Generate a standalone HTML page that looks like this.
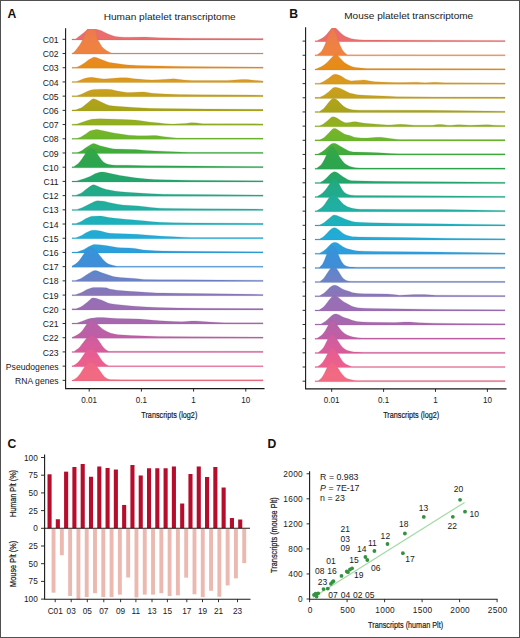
<!DOCTYPE html>
<html><head><meta charset="utf-8"><style>
html,body{margin:0;padding:0;background:#fff;}
svg{display:block;}
</style></head><body>
<svg width="520" height="638" viewBox="0 0 520 638">
<defs><linearGradient id="ag0" x1="0" y1="0" x2="0" y2="1"><stop offset="0" stop-color="#ea6c6c"/><stop offset="0.7" stop-color="#ea6c6c"/></linearGradient><linearGradient id="ag1" x1="0" y1="0" x2="0" y2="1"><stop offset="0" stop-color="#ed7854"/><stop offset="0.7" stop-color="#ef8240"/></linearGradient><linearGradient id="ag2" x1="0" y1="0" x2="0" y2="1"><stop offset="0" stop-color="#ea8829"/><stop offset="0.7" stop-color="#e68c16"/></linearGradient><linearGradient id="ag3" x1="0" y1="0" x2="0" y2="1"><stop offset="0" stop-color="#df941a"/><stop offset="0.7" stop-color="#d99b1e"/></linearGradient><linearGradient id="ag4" x1="0" y1="0" x2="0" y2="1"><stop offset="0" stop-color="#cd9e1d"/><stop offset="0.7" stop-color="#c3a01c"/></linearGradient><linearGradient id="ag5" x1="0" y1="0" x2="0" y2="1"><stop offset="0" stop-color="#b5a21b"/><stop offset="0.7" stop-color="#a9a31a"/></linearGradient><linearGradient id="ag6" x1="0" y1="0" x2="0" y2="1"><stop offset="0" stop-color="#9baa1d"/><stop offset="0.7" stop-color="#8fb020"/></linearGradient><linearGradient id="ag7" x1="0" y1="0" x2="0" y2="1"><stop offset="0" stop-color="#7cb327"/><stop offset="0.7" stop-color="#6cb62c"/></linearGradient><linearGradient id="ag8" x1="0" y1="0" x2="0" y2="1"><stop offset="0" stop-color="#53b035"/><stop offset="0.7" stop-color="#3fac3c"/></linearGradient><linearGradient id="ag9" x1="0" y1="0" x2="0" y2="1"><stop offset="0" stop-color="#35a846"/><stop offset="0.7" stop-color="#2ca54e"/></linearGradient><linearGradient id="ag10" x1="0" y1="0" x2="0" y2="1"><stop offset="0" stop-color="#26a65e"/><stop offset="0.7" stop-color="#22a66c"/></linearGradient><linearGradient id="ag11" x1="0" y1="0" x2="0" y2="1"><stop offset="0" stop-color="#21a97e"/><stop offset="0.7" stop-color="#21ab8c"/></linearGradient><linearGradient id="ag12" x1="0" y1="0" x2="0" y2="1"><stop offset="0" stop-color="#20ad98"/><stop offset="0.7" stop-color="#20afa2"/></linearGradient><linearGradient id="ag13" x1="0" y1="0" x2="0" y2="1"><stop offset="0" stop-color="#1eb0b1"/><stop offset="0.7" stop-color="#1cb1be"/></linearGradient><linearGradient id="ag14" x1="0" y1="0" x2="0" y2="1"><stop offset="0" stop-color="#1faecc"/><stop offset="0.7" stop-color="#22abd8"/></linearGradient><linearGradient id="ag15" x1="0" y1="0" x2="0" y2="1"><stop offset="0" stop-color="#28a4da"/><stop offset="0.7" stop-color="#2c9edc"/></linearGradient><linearGradient id="ag16" x1="0" y1="0" x2="0" y2="1"><stop offset="0" stop-color="#3695da"/><stop offset="0.7" stop-color="#3e8ed8"/></linearGradient><linearGradient id="ag17" x1="0" y1="0" x2="0" y2="1"><stop offset="0" stop-color="#5787ce"/><stop offset="0.7" stop-color="#6c82c6"/></linearGradient><linearGradient id="ag18" x1="0" y1="0" x2="0" y2="1"><stop offset="0" stop-color="#7c7bbe"/><stop offset="0.7" stop-color="#8a75b8"/></linearGradient><linearGradient id="ag19" x1="0" y1="0" x2="0" y2="1"><stop offset="0" stop-color="#9371b6"/><stop offset="0.7" stop-color="#9b6db4"/></linearGradient><linearGradient id="ag20" x1="0" y1="0" x2="0" y2="1"><stop offset="0" stop-color="#a26ab1"/><stop offset="0.7" stop-color="#a867ae"/></linearGradient><linearGradient id="ag21" x1="0" y1="0" x2="0" y2="1"><stop offset="0" stop-color="#b463aa"/><stop offset="0.7" stop-color="#bd5fa6"/></linearGradient><linearGradient id="ag22" x1="0" y1="0" x2="0" y2="1"><stop offset="0" stop-color="#cc5da0"/><stop offset="0.7" stop-color="#d85c9c"/></linearGradient><linearGradient id="ag23" x1="0" y1="0" x2="0" y2="1"><stop offset="0" stop-color="#e35d94"/><stop offset="0.7" stop-color="#ec5e8e"/></linearGradient><linearGradient id="ag24" x1="0" y1="0" x2="0" y2="1"><stop offset="0" stop-color="#ef6587"/><stop offset="0.7" stop-color="#f26a82"/></linearGradient><clipPath id="aclip"><rect x="65.6" y="29.1" width="250" height="400"/></clipPath><linearGradient id="bg0" x1="0" y1="0" x2="0" y2="1"><stop offset="0" stop-color="#ea6c6c"/><stop offset="0.7" stop-color="#ea6c6c"/></linearGradient><linearGradient id="bg1" x1="0" y1="0" x2="0" y2="1"><stop offset="0" stop-color="#ed7854"/><stop offset="0.7" stop-color="#ef8240"/></linearGradient><linearGradient id="bg2" x1="0" y1="0" x2="0" y2="1"><stop offset="0" stop-color="#ea8829"/><stop offset="0.7" stop-color="#e68c16"/></linearGradient><linearGradient id="bg3" x1="0" y1="0" x2="0" y2="1"><stop offset="0" stop-color="#df941a"/><stop offset="0.7" stop-color="#d99b1e"/></linearGradient><linearGradient id="bg4" x1="0" y1="0" x2="0" y2="1"><stop offset="0" stop-color="#cd9e1d"/><stop offset="0.7" stop-color="#c3a01c"/></linearGradient><linearGradient id="bg5" x1="0" y1="0" x2="0" y2="1"><stop offset="0" stop-color="#b5a21b"/><stop offset="0.7" stop-color="#a9a31a"/></linearGradient><linearGradient id="bg6" x1="0" y1="0" x2="0" y2="1"><stop offset="0" stop-color="#9baa1d"/><stop offset="0.7" stop-color="#8fb020"/></linearGradient><linearGradient id="bg7" x1="0" y1="0" x2="0" y2="1"><stop offset="0" stop-color="#7cb327"/><stop offset="0.7" stop-color="#6cb62c"/></linearGradient><linearGradient id="bg8" x1="0" y1="0" x2="0" y2="1"><stop offset="0" stop-color="#53b035"/><stop offset="0.7" stop-color="#3fac3c"/></linearGradient><linearGradient id="bg9" x1="0" y1="0" x2="0" y2="1"><stop offset="0" stop-color="#35a846"/><stop offset="0.7" stop-color="#2ca54e"/></linearGradient><linearGradient id="bg10" x1="0" y1="0" x2="0" y2="1"><stop offset="0" stop-color="#26a65e"/><stop offset="0.7" stop-color="#22a66c"/></linearGradient><linearGradient id="bg11" x1="0" y1="0" x2="0" y2="1"><stop offset="0" stop-color="#21a97e"/><stop offset="0.7" stop-color="#21ab8c"/></linearGradient><linearGradient id="bg12" x1="0" y1="0" x2="0" y2="1"><stop offset="0" stop-color="#20ad98"/><stop offset="0.7" stop-color="#20afa2"/></linearGradient><linearGradient id="bg13" x1="0" y1="0" x2="0" y2="1"><stop offset="0" stop-color="#1eb0b1"/><stop offset="0.7" stop-color="#1cb1be"/></linearGradient><linearGradient id="bg14" x1="0" y1="0" x2="0" y2="1"><stop offset="0" stop-color="#1faecc"/><stop offset="0.7" stop-color="#22abd8"/></linearGradient><linearGradient id="bg15" x1="0" y1="0" x2="0" y2="1"><stop offset="0" stop-color="#28a4da"/><stop offset="0.7" stop-color="#2c9edc"/></linearGradient><linearGradient id="bg16" x1="0" y1="0" x2="0" y2="1"><stop offset="0" stop-color="#3695da"/><stop offset="0.7" stop-color="#3e8ed8"/></linearGradient><linearGradient id="bg17" x1="0" y1="0" x2="0" y2="1"><stop offset="0" stop-color="#5787ce"/><stop offset="0.7" stop-color="#6c82c6"/></linearGradient><linearGradient id="bg18" x1="0" y1="0" x2="0" y2="1"><stop offset="0" stop-color="#7c7bbe"/><stop offset="0.7" stop-color="#8a75b8"/></linearGradient><linearGradient id="bg19" x1="0" y1="0" x2="0" y2="1"><stop offset="0" stop-color="#9371b6"/><stop offset="0.7" stop-color="#9b6db4"/></linearGradient><linearGradient id="bg20" x1="0" y1="0" x2="0" y2="1"><stop offset="0" stop-color="#a26ab1"/><stop offset="0.7" stop-color="#a867ae"/></linearGradient><linearGradient id="bg21" x1="0" y1="0" x2="0" y2="1"><stop offset="0" stop-color="#b463aa"/><stop offset="0.7" stop-color="#bd5fa6"/></linearGradient><linearGradient id="bg22" x1="0" y1="0" x2="0" y2="1"><stop offset="0" stop-color="#cc5da0"/><stop offset="0.7" stop-color="#d85c9c"/></linearGradient><linearGradient id="bg23" x1="0" y1="0" x2="0" y2="1"><stop offset="0" stop-color="#e35d94"/><stop offset="0.7" stop-color="#ec5e8e"/></linearGradient><linearGradient id="bg24" x1="0" y1="0" x2="0" y2="1"><stop offset="0" stop-color="#ef6587"/><stop offset="0.7" stop-color="#f26a82"/></linearGradient><clipPath id="bclip"><rect x="305.6" y="28.0" width="250" height="400"/></clipPath></defs>
<rect x="0" y="0" width="520" height="638" fill="#fff"/>
<text x="7.6" y="18.2" font-family="'Liberation Sans', sans-serif" font-weight="bold" font-size="12.2" fill="#111">A</text>
<text x="289.2" y="18.4" font-family="'Liberation Sans', sans-serif" font-weight="bold" font-size="12.2" fill="#111">B</text>
<text x="7.4" y="447.6" font-family="'Liberation Sans', sans-serif" font-weight="bold" font-size="12.2" fill="#111">C</text>
<text x="267.6" y="447.6" font-family="'Liberation Sans', sans-serif" font-weight="bold" font-size="12.2" fill="#111">D</text>
<text x="103.7" y="19.9" font-family="'Liberation Sans', sans-serif" font-size="9.8" fill="#1a1a1a" textLength="132" lengthAdjust="spacingAndGlyphs">Human platelet transcriptome</text>
<text x="344.2" y="19.3" font-family="'Liberation Sans', sans-serif" font-size="9.8" fill="#1a1a1a" textLength="129" lengthAdjust="spacingAndGlyphs">Mouse platelet transcriptome</text>
<g clip-path="url(#aclip)"><path d="M72.0,39.90 L72.0,38.88 L75.5,38.88 L76.0,38.63 L84.0,32.40 L87.0,29.70 L88.0,29.10 L90.0,28.21 L91.0,27.91 L92.0,27.80 L93.5,28.06 L96.5,29.20 L101.0,30.50 L102.5,31.16 L105.5,32.76 L107.5,33.68 L113.5,36.12 L115.5,36.57 L120.0,36.97 L124.0,37.17 L129.5,37.30 L145.5,37.12 L159.0,37.68 L174.5,38.06 L188.0,38.27 L263.0,38.47 L263.0,39.90Z" fill="url(#ag0)" stroke="#c16868" stroke-width="0.4" stroke-opacity="0.5" stroke-linejoin="round"/><path d="M72.0,54.11 L72.0,53.09 L73.0,53.09 L74.0,51.89 L75.5,50.51 L79.5,45.29 L81.0,42.86 L82.5,40.05 L85.0,34.85 L86.5,31.11 L87.0,30.05 L87.5,29.28 L88.5,28.59 L90.0,27.89 L91.0,27.61 L92.0,27.51 L93.0,27.59 L94.0,27.85 L95.0,28.37 L95.5,28.74 L96.0,29.95 L96.5,34.87 L97.0,37.19 L97.5,38.77 L98.5,41.05 L101.5,46.12 L102.0,46.81 L103.5,48.34 L106.0,50.19 L110.5,52.65 L112.0,53.09 L263.0,53.09 L263.0,54.11Z" fill="url(#ag1)" stroke="#c4784a" stroke-width="0.4" stroke-opacity="0.5" stroke-linejoin="round"/><path d="M72.0,68.32 L72.0,67.30 L76.5,67.30 L78.0,66.74 L81.0,65.16 L84.5,62.99 L88.0,60.22 L89.5,59.19 L92.5,57.69 L93.5,57.35 L94.5,57.22 L95.5,57.32 L97.0,57.75 L106.5,61.46 L109.5,62.41 L115.0,63.37 L125.5,64.76 L129.0,65.09 L137.5,65.47 L147.5,65.78 L183.5,66.44 L210.5,66.72 L263.0,67.05 L263.0,68.32Z" fill="url(#ag2)" stroke="#be7f2c" stroke-width="0.4" stroke-opacity="0.5" stroke-linejoin="round"/><path d="M72.0,82.53 L72.0,81.51 L76.5,81.48 L78.0,80.95 L83.0,78.91 L85.0,78.25 L89.0,77.55 L92.0,77.33 L93.5,77.45 L98.0,78.33 L101.5,78.75 L104.0,78.92 L107.5,78.81 L120.0,77.78 L124.5,77.64 L127.0,77.80 L134.0,78.73 L141.0,79.36 L145.5,79.67 L152.0,79.88 L158.5,79.87 L171.0,78.90 L173.0,78.83 L176.0,79.01 L184.0,80.07 L192.5,80.45 L225.0,80.49 L227.5,80.41 L241.5,79.54 L245.0,79.43 L247.0,79.54 L251.5,80.09 L263.0,80.95 L263.0,82.53Z" fill="url(#ag3)" stroke="#b58932" stroke-width="0.4" stroke-opacity="0.5" stroke-linejoin="round"/><path d="M72.0,96.74 L72.0,95.72 L76.5,95.72 L77.0,95.70 L77.5,95.56 L82.0,93.93 L87.5,91.32 L91.0,90.07 L92.5,89.65 L94.5,89.42 L101.5,89.24 L106.5,89.31 L111.0,89.53 L113.0,89.90 L117.5,91.04 L120.5,91.61 L123.5,92.08 L127.0,92.45 L130.5,92.52 L141.0,91.99 L144.0,91.95 L146.0,92.14 L152.0,93.14 L159.5,93.76 L166.0,94.11 L179.0,94.43 L199.0,94.74 L263.0,95.16 L263.0,96.74Z" fill="url(#ag4)" stroke="#a58d30" stroke-width="0.4" stroke-opacity="0.5" stroke-linejoin="round"/><path d="M72.0,110.95 L72.0,109.93 L76.0,109.87 L80.0,108.35 L81.0,107.88 L82.5,106.91 L87.5,102.98 L91.0,99.96 L92.5,99.08 L93.5,98.85 L94.5,98.94 L96.0,99.42 L106.5,104.45 L108.0,105.04 L109.5,105.48 L113.5,105.99 L134.0,107.54 L149.0,108.25 L160.5,108.56 L206.0,109.00 L263.0,109.37 L263.0,110.95Z" fill="url(#ag5)" stroke="#938f2f" stroke-width="0.4" stroke-opacity="0.5" stroke-linejoin="round"/><path d="M72.0,125.16 L72.0,124.14 L77.0,124.10 L81.5,122.61 L86.5,120.71 L91.5,119.36 L95.0,119.03 L100.0,118.86 L124.5,119.54 L135.0,120.09 L139.0,120.48 L149.0,121.96 L159.5,122.96 L165.5,123.67 L171.0,124.02 L174.5,124.03 L179.0,123.84 L185.5,123.38 L190.5,122.81 L193.5,122.66 L197.0,122.89 L201.0,123.58 L203.0,123.73 L263.0,123.89 L263.0,125.16Z" fill="url(#ag6)" stroke="#819833" stroke-width="0.4" stroke-opacity="0.5" stroke-linejoin="round"/><path d="M72.0,139.37 L72.0,138.35 L77.0,138.35 L79.0,137.74 L81.0,136.89 L82.5,136.08 L86.5,133.45 L89.0,131.62 L90.5,130.76 L93.5,129.88 L95.0,129.63 L96.0,129.57 L97.0,129.62 L98.5,129.86 L109.0,132.08 L113.5,132.89 L124.0,134.54 L128.5,135.13 L134.0,135.60 L137.5,135.77 L146.5,135.77 L153.0,135.58 L155.5,135.62 L158.0,135.85 L164.0,136.67 L169.0,137.15 L173.5,137.75 L177.0,138.05 L263.0,138.10 L263.0,139.37Z" fill="url(#ag7)" stroke="#689c3c" stroke-width="0.4" stroke-opacity="0.5" stroke-linejoin="round"/><path d="M72.0,153.58 L72.0,152.56 L77.0,152.56 L78.0,152.30 L79.5,151.75 L81.0,151.08 L82.0,150.52 L86.0,147.61 L91.0,144.39 L92.5,143.74 L93.5,143.58 L94.5,143.66 L95.5,143.91 L100.0,145.68 L109.0,147.88 L111.5,148.61 L112.5,148.83 L115.0,149.00 L135.5,149.56 L146.5,150.41 L155.0,150.88 L179.5,151.94 L188.5,152.23 L194.5,152.31 L263.0,152.31 L263.0,153.58Z" fill="url(#ag8)" stroke="#499547" stroke-width="0.4" stroke-opacity="0.5" stroke-linejoin="round"/><path d="M72.0,167.79 L72.0,166.77 L73.0,166.77 L73.5,166.65 L74.0,166.39 L77.0,164.50 L78.5,163.22 L80.0,161.58 L81.5,159.60 L86.0,152.71 L87.5,150.72 L88.5,149.67 L89.5,148.91 L90.5,148.48 L91.0,148.40 L92.0,148.50 L93.0,148.94 L94.0,149.69 L95.0,150.71 L96.5,152.64 L101.0,159.32 L102.0,160.53 L103.5,161.99 L105.0,163.03 L106.5,163.73 L109.0,164.43 L112.0,164.96 L115.5,165.15 L127.0,165.25 L148.0,165.71 L160.5,165.86 L263.0,166.52 L263.0,167.79Z" fill="url(#ag9)" stroke="#3c9053" stroke-width="0.4" stroke-opacity="0.5" stroke-linejoin="round"/><path d="M72.0,182.00 L72.0,180.98 L76.5,180.98 L77.5,180.78 L84.0,178.72 L88.0,177.22 L90.5,176.18 L94.0,174.27 L95.5,173.57 L99.5,172.37 L101.0,172.09 L102.5,172.00 L105.0,172.28 L109.5,173.30 L120.0,175.40 L135.0,177.87 L144.5,178.81 L154.0,179.47 L162.0,179.78 L188.0,180.18 L263.0,180.73 L263.0,182.00Z" fill="url(#ag10)" stroke="#359168" stroke-width="0.4" stroke-opacity="0.5" stroke-linejoin="round"/><path d="M72.0,196.21 L72.0,195.19 L76.0,195.13 L80.5,193.40 L82.5,192.13 L86.0,189.31 L90.5,186.05 L92.0,185.18 L93.0,184.87 L93.5,184.81 L94.5,184.91 L95.5,185.21 L99.5,187.12 L102.5,188.15 L106.5,189.39 L109.5,190.12 L114.5,190.93 L120.5,191.67 L127.5,192.33 L135.0,192.85 L151.5,193.76 L163.5,194.17 L196.5,194.55 L263.0,194.94 L263.0,196.21Z" fill="url(#ag11)" stroke="#34947f" stroke-width="0.4" stroke-opacity="0.5" stroke-linejoin="round"/><path d="M72.0,210.42 L72.0,209.40 L77.0,209.38 L78.5,208.92 L82.0,207.65 L83.5,207.00 L94.5,201.60 L96.0,201.05 L97.5,200.82 L100.5,200.92 L104.0,201.25 L110.0,202.82 L117.5,204.24 L122.5,204.97 L126.5,205.33 L138.5,206.01 L153.5,207.63 L160.0,208.13 L173.5,208.42 L193.5,208.67 L263.0,209.15 L263.0,210.42Z" fill="url(#ag12)" stroke="#33978e" stroke-width="0.4" stroke-opacity="0.5" stroke-linejoin="round"/><path d="M72.0,224.63 L72.0,223.61 L75.5,223.61 L76.0,223.52 L80.0,222.03 L82.0,221.05 L85.0,219.10 L86.5,218.25 L89.5,216.97 L91.0,216.45 L92.0,216.22 L93.0,216.13 L99.5,216.03 L101.0,216.07 L102.5,216.24 L109.0,217.58 L115.5,218.36 L125.5,219.27 L137.5,220.16 L153.0,221.82 L160.0,222.34 L174.0,222.63 L194.0,222.89 L263.0,223.36 L263.0,224.63Z" fill="url(#ag13)" stroke="#3099a2" stroke-width="0.4" stroke-opacity="0.5" stroke-linejoin="round"/><path d="M72.0,238.84 L72.0,237.82 L75.5,237.82 L76.5,237.55 L81.0,235.81 L82.5,234.95 L85.5,233.00 L87.0,232.24 L91.0,230.61 L92.5,230.23 L93.5,230.14 L96.0,230.30 L100.5,231.03 L102.5,231.49 L107.0,232.74 L108.5,233.05 L110.0,233.24 L115.5,233.53 L137.0,234.29 L142.5,234.66 L159.5,236.06 L183.5,237.18 L191.5,237.46 L198.5,237.57 L263.0,237.57 L263.0,238.84Z" fill="url(#ag14)" stroke="#3594b4" stroke-width="0.4" stroke-opacity="0.5" stroke-linejoin="round"/><path d="M72.0,253.05 L72.0,252.03 L77.0,252.01 L78.5,251.55 L82.0,250.29 L84.5,249.20 L86.0,248.35 L88.5,246.72 L90.0,245.95 L93.0,244.79 L94.0,244.54 L95.0,244.45 L99.0,244.69 L106.0,245.58 L114.5,247.04 L117.5,247.46 L120.0,247.65 L129.0,247.89 L133.0,248.16 L135.0,248.39 L139.5,249.37 L143.5,249.89 L148.5,250.35 L155.5,250.73 L163.0,251.00 L187.0,251.32 L263.0,251.78 L263.0,253.05Z" fill="url(#ag15)" stroke="#3c8bb7" stroke-width="0.4" stroke-opacity="0.5" stroke-linejoin="round"/><path d="M72.0,267.26 L72.0,266.07 L75.5,264.02 L77.5,262.36 L79.0,260.73 L80.5,258.80 L85.0,252.18 L86.5,250.23 L87.5,249.18 L88.5,248.37 L89.5,247.86 L90.5,247.66 L91.5,247.76 L92.5,248.09 L93.5,248.64 L95.0,249.85 L97.0,251.99 L103.0,259.46 L105.0,261.53 L106.5,262.77 L108.0,263.72 L110.0,264.59 L113.5,265.59 L117.0,266.24 L263.0,266.24 L263.0,267.26Z" fill="url(#ag16)" stroke="#4880b4" stroke-width="0.4" stroke-opacity="0.5" stroke-linejoin="round"/><path d="M72.0,281.47 L72.0,280.45 L75.5,280.45 L76.0,280.37 L80.5,278.67 L82.5,277.58 L87.0,274.47 L92.0,271.38 L93.5,270.71 L95.0,270.47 L96.0,270.58 L97.0,270.83 L102.0,272.87 L112.5,276.27 L114.5,276.79 L120.5,277.49 L135.0,278.49 L144.0,279.38 L160.0,279.64 L182.5,279.85 L263.0,280.20 L263.0,281.47Z" fill="url(#ag17)" stroke="#6878a7" stroke-width="0.4" stroke-opacity="0.5" stroke-linejoin="round"/><path d="M72.0,295.68 L72.0,294.66 L75.5,294.66 L76.0,294.54 L81.0,292.69 L82.5,291.94 L86.0,289.97 L87.5,289.27 L92.0,287.71 L93.5,287.42 L94.5,287.38 L101.0,287.46 L105.5,287.63 L106.5,287.87 L109.5,288.96 L111.0,289.27 L117.0,290.17 L123.5,290.85 L130.0,291.33 L157.0,292.89 L162.5,293.07 L178.0,293.33 L263.0,294.41 L263.0,295.68Z" fill="url(#ag18)" stroke="#7d6f9e" stroke-width="0.4" stroke-opacity="0.5" stroke-linejoin="round"/><path d="M72.0,309.89 L72.0,308.87 L76.0,308.81 L80.0,307.29 L81.0,306.83 L83.0,305.49 L87.5,301.89 L91.0,298.66 L92.0,298.08 L93.0,297.89 L94.5,298.02 L96.0,298.32 L100.5,299.64 L102.5,300.45 L107.5,302.82 L109.0,303.35 L111.0,303.77 L116.5,304.50 L131.5,305.93 L146.5,307.00 L159.0,307.60 L178.5,307.95 L203.5,308.22 L263.0,308.62 L263.0,309.89Z" fill="url(#ag19)" stroke="#89699b" stroke-width="0.4" stroke-opacity="0.5" stroke-linejoin="round"/><path d="M72.0,324.10 L72.0,323.08 L77.0,323.04 L81.5,321.53 L86.0,319.64 L88.0,319.00 L91.0,318.37 L93.5,317.97 L97.5,317.53 L100.0,317.40 L103.0,317.52 L109.5,318.07 L117.0,318.43 L139.5,319.05 L145.0,319.45 L160.0,320.81 L175.0,321.61 L182.0,321.67 L191.5,321.10 L195.5,321.00 L199.5,321.18 L210.0,322.06 L224.5,322.75 L229.5,322.83 L263.0,322.83 L263.0,324.10Z" fill="url(#ag20)" stroke="#926597" stroke-width="0.4" stroke-opacity="0.5" stroke-linejoin="round"/><path d="M72.0,338.31 L72.0,337.29 L73.5,336.73 L77.0,335.09 L79.0,333.77 L80.5,332.48 L82.0,330.91 L84.0,328.36 L88.5,321.54 L89.5,320.17 L90.5,319.08 L91.0,318.72 L91.5,318.65 L92.5,319.16 L94.0,320.42 L95.5,321.99 L98.5,325.42 L100.5,327.36 L102.5,328.89 L105.0,330.46 L108.0,332.11 L111.0,333.26 L114.5,334.09 L118.5,334.64 L124.0,335.12 L131.5,335.53 L159.0,336.41 L193.5,336.72 L263.0,337.04 L263.0,338.31Z" fill="url(#ag21)" stroke="#a15f91" stroke-width="0.4" stroke-opacity="0.5" stroke-linejoin="round"/><path d="M72.0,352.52 L72.0,351.50 L73.5,351.50 L74.0,351.41 L77.5,349.11 L78.5,348.24 L80.0,346.67 L81.5,344.81 L85.5,339.44 L87.5,337.29 L88.5,336.49 L89.5,335.92 L90.5,335.58 L92.0,335.42 L93.5,335.62 L94.5,336.05 L95.5,336.76 L96.5,337.72 L98.0,339.59 L102.5,346.18 L104.0,348.00 L105.0,348.98 L106.0,349.76 L108.0,350.88 L109.0,351.21 L110.0,351.36 L111.5,351.37 L114.5,351.20 L263.0,351.25 L263.0,352.52Z" fill="url(#ag22)" stroke="#b45d8a" stroke-width="0.4" stroke-opacity="0.5" stroke-linejoin="round"/><path d="M72.0,366.73 L72.0,365.71 L73.5,365.62 L76.0,364.02 L77.5,362.85 L78.5,361.86 L80.0,360.08 L84.5,353.53 L86.5,350.95 L87.5,349.96 L88.5,349.23 L89.5,348.76 L91.0,348.53 L92.0,348.63 L93.0,348.99 L94.0,349.64 L95.0,350.56 L96.0,351.73 L97.0,353.10 L101.5,359.88 L103.0,361.75 L104.0,362.78 L105.0,363.64 L107.0,364.94 L108.0,365.45 L109.0,365.71 L263.0,365.71 L263.0,366.73Z" fill="url(#ag23)" stroke="#c25f80" stroke-width="0.4" stroke-opacity="0.5" stroke-linejoin="round"/><path d="M72.0,380.94 L72.0,379.92 L73.0,379.92 L73.5,379.81 L76.0,378.15 L77.5,376.90 L78.5,375.85 L80.0,373.94 L84.5,366.97 L86.5,364.29 L87.5,363.29 L88.5,362.56 L89.5,362.12 L91.0,361.94 L92.5,362.23 L93.5,362.73 L94.5,363.50 L95.5,364.52 L97.5,367.13 L102.0,373.82 L103.5,375.67 L105.0,377.16 L106.5,378.23 L108.0,378.95 L109.0,379.32 L110.5,379.58 L122.5,379.67 L263.0,379.67 L263.0,380.94Z" fill="url(#ag24)" stroke="#c66778" stroke-width="0.4" stroke-opacity="0.5" stroke-linejoin="round"/></g>
<path d="M65.6,28.3 V388.6 H264.5" fill="none" stroke="#1a1a1a" stroke-width="1.1"/>
<line x1="62.599999999999994" y1="39.30" x2="65.6" y2="39.30" stroke="#1a1a1a" stroke-width="0.9"/>
<text x="58.599999999999994" y="42.90" font-family="'Liberation Sans', sans-serif" font-size="8.65" fill="#1a1a1a" text-anchor="end">C01</text>
<line x1="62.599999999999994" y1="53.51" x2="65.6" y2="53.51" stroke="#1a1a1a" stroke-width="0.9"/>
<text x="58.599999999999994" y="57.11" font-family="'Liberation Sans', sans-serif" font-size="8.65" fill="#1a1a1a" text-anchor="end">C02</text>
<line x1="62.599999999999994" y1="67.72" x2="65.6" y2="67.72" stroke="#1a1a1a" stroke-width="0.9"/>
<text x="58.599999999999994" y="71.32" font-family="'Liberation Sans', sans-serif" font-size="8.65" fill="#1a1a1a" text-anchor="end">C03</text>
<line x1="62.599999999999994" y1="81.93" x2="65.6" y2="81.93" stroke="#1a1a1a" stroke-width="0.9"/>
<text x="58.599999999999994" y="85.53" font-family="'Liberation Sans', sans-serif" font-size="8.65" fill="#1a1a1a" text-anchor="end">C04</text>
<line x1="62.599999999999994" y1="96.14" x2="65.6" y2="96.14" stroke="#1a1a1a" stroke-width="0.9"/>
<text x="58.599999999999994" y="99.74" font-family="'Liberation Sans', sans-serif" font-size="8.65" fill="#1a1a1a" text-anchor="end">C05</text>
<line x1="62.599999999999994" y1="110.35" x2="65.6" y2="110.35" stroke="#1a1a1a" stroke-width="0.9"/>
<text x="58.599999999999994" y="113.95" font-family="'Liberation Sans', sans-serif" font-size="8.65" fill="#1a1a1a" text-anchor="end">C06</text>
<line x1="62.599999999999994" y1="124.56" x2="65.6" y2="124.56" stroke="#1a1a1a" stroke-width="0.9"/>
<text x="58.599999999999994" y="128.16" font-family="'Liberation Sans', sans-serif" font-size="8.65" fill="#1a1a1a" text-anchor="end">C07</text>
<line x1="62.599999999999994" y1="138.77" x2="65.6" y2="138.77" stroke="#1a1a1a" stroke-width="0.9"/>
<text x="58.599999999999994" y="142.37" font-family="'Liberation Sans', sans-serif" font-size="8.65" fill="#1a1a1a" text-anchor="end">C08</text>
<line x1="62.599999999999994" y1="152.98" x2="65.6" y2="152.98" stroke="#1a1a1a" stroke-width="0.9"/>
<text x="58.599999999999994" y="156.58" font-family="'Liberation Sans', sans-serif" font-size="8.65" fill="#1a1a1a" text-anchor="end">C09</text>
<line x1="62.599999999999994" y1="167.19" x2="65.6" y2="167.19" stroke="#1a1a1a" stroke-width="0.9"/>
<text x="58.599999999999994" y="170.79" font-family="'Liberation Sans', sans-serif" font-size="8.65" fill="#1a1a1a" text-anchor="end">C10</text>
<line x1="62.599999999999994" y1="181.40" x2="65.6" y2="181.40" stroke="#1a1a1a" stroke-width="0.9"/>
<text x="58.599999999999994" y="185.00" font-family="'Liberation Sans', sans-serif" font-size="8.65" fill="#1a1a1a" text-anchor="end">C11</text>
<line x1="62.599999999999994" y1="195.61" x2="65.6" y2="195.61" stroke="#1a1a1a" stroke-width="0.9"/>
<text x="58.599999999999994" y="199.21" font-family="'Liberation Sans', sans-serif" font-size="8.65" fill="#1a1a1a" text-anchor="end">C12</text>
<line x1="62.599999999999994" y1="209.82" x2="65.6" y2="209.82" stroke="#1a1a1a" stroke-width="0.9"/>
<text x="58.599999999999994" y="213.42" font-family="'Liberation Sans', sans-serif" font-size="8.65" fill="#1a1a1a" text-anchor="end">C13</text>
<line x1="62.599999999999994" y1="224.03" x2="65.6" y2="224.03" stroke="#1a1a1a" stroke-width="0.9"/>
<text x="58.599999999999994" y="227.63" font-family="'Liberation Sans', sans-serif" font-size="8.65" fill="#1a1a1a" text-anchor="end">C14</text>
<line x1="62.599999999999994" y1="238.24" x2="65.6" y2="238.24" stroke="#1a1a1a" stroke-width="0.9"/>
<text x="58.599999999999994" y="241.84" font-family="'Liberation Sans', sans-serif" font-size="8.65" fill="#1a1a1a" text-anchor="end">C15</text>
<line x1="62.599999999999994" y1="252.45" x2="65.6" y2="252.45" stroke="#1a1a1a" stroke-width="0.9"/>
<text x="58.599999999999994" y="256.05" font-family="'Liberation Sans', sans-serif" font-size="8.65" fill="#1a1a1a" text-anchor="end">C16</text>
<line x1="62.599999999999994" y1="266.66" x2="65.6" y2="266.66" stroke="#1a1a1a" stroke-width="0.9"/>
<text x="58.599999999999994" y="270.26" font-family="'Liberation Sans', sans-serif" font-size="8.65" fill="#1a1a1a" text-anchor="end">C17</text>
<line x1="62.599999999999994" y1="280.87" x2="65.6" y2="280.87" stroke="#1a1a1a" stroke-width="0.9"/>
<text x="58.599999999999994" y="284.47" font-family="'Liberation Sans', sans-serif" font-size="8.65" fill="#1a1a1a" text-anchor="end">C18</text>
<line x1="62.599999999999994" y1="295.08" x2="65.6" y2="295.08" stroke="#1a1a1a" stroke-width="0.9"/>
<text x="58.599999999999994" y="298.68" font-family="'Liberation Sans', sans-serif" font-size="8.65" fill="#1a1a1a" text-anchor="end">C19</text>
<line x1="62.599999999999994" y1="309.29" x2="65.6" y2="309.29" stroke="#1a1a1a" stroke-width="0.9"/>
<text x="58.599999999999994" y="312.89" font-family="'Liberation Sans', sans-serif" font-size="8.65" fill="#1a1a1a" text-anchor="end">C20</text>
<line x1="62.599999999999994" y1="323.50" x2="65.6" y2="323.50" stroke="#1a1a1a" stroke-width="0.9"/>
<text x="58.599999999999994" y="327.10" font-family="'Liberation Sans', sans-serif" font-size="8.65" fill="#1a1a1a" text-anchor="end">C21</text>
<line x1="62.599999999999994" y1="337.71" x2="65.6" y2="337.71" stroke="#1a1a1a" stroke-width="0.9"/>
<text x="58.599999999999994" y="341.31" font-family="'Liberation Sans', sans-serif" font-size="8.65" fill="#1a1a1a" text-anchor="end">C22</text>
<line x1="62.599999999999994" y1="351.92" x2="65.6" y2="351.92" stroke="#1a1a1a" stroke-width="0.9"/>
<text x="58.599999999999994" y="355.52" font-family="'Liberation Sans', sans-serif" font-size="8.65" fill="#1a1a1a" text-anchor="end">C23</text>
<line x1="62.599999999999994" y1="366.13" x2="65.6" y2="366.13" stroke="#1a1a1a" stroke-width="0.9"/>
<text x="58.599999999999994" y="369.73" font-family="'Liberation Sans', sans-serif" font-size="8.65" fill="#1a1a1a" text-anchor="end">Pseudogenes</text>
<line x1="62.599999999999994" y1="380.34" x2="65.6" y2="380.34" stroke="#1a1a1a" stroke-width="0.9"/>
<text x="58.599999999999994" y="383.94" font-family="'Liberation Sans', sans-serif" font-size="8.65" fill="#1a1a1a" text-anchor="end">RNA genes</text>
<line x1="89.2" y1="388.6" x2="89.2" y2="391.6" stroke="#1a1a1a" stroke-width="0.9"/>
<text transform="translate(89.20,403.10) scale(0.9,1)" font-family="'Liberation Sans', sans-serif" font-size="9.0" fill="#1a1a1a" text-anchor="middle" >0.01</text>
<line x1="141.4" y1="388.6" x2="141.4" y2="391.6" stroke="#1a1a1a" stroke-width="0.9"/>
<text transform="translate(141.40,403.10) scale(0.9,1)" font-family="'Liberation Sans', sans-serif" font-size="9.0" fill="#1a1a1a" text-anchor="middle" >0.1</text>
<line x1="193.6" y1="388.6" x2="193.6" y2="391.6" stroke="#1a1a1a" stroke-width="0.9"/>
<text transform="translate(193.60,403.10) scale(0.9,1)" font-family="'Liberation Sans', sans-serif" font-size="9.0" fill="#1a1a1a" text-anchor="middle" >1</text>
<line x1="245.8" y1="388.6" x2="245.8" y2="391.6" stroke="#1a1a1a" stroke-width="0.9"/>
<text transform="translate(245.80,403.10) scale(0.9,1)" font-family="'Liberation Sans', sans-serif" font-size="9.0" fill="#1a1a1a" text-anchor="middle" >10</text>
<text x="141.3" y="418.1" font-family="'Liberation Sans', sans-serif" font-size="9.7" fill="#1a1a1a" textLength="56" lengthAdjust="spacingAndGlyphs" stroke="#1a1a1a" stroke-width="0.22">Transcripts (log2)</text>
<g clip-path="url(#bclip)"><path d="M315.0,41.70 L315.0,40.68 L316.5,40.68 L317.0,40.63 L317.5,40.45 L321.5,38.57 L323.5,37.26 L325.0,36.00 L326.5,34.47 L332.0,27.81 L333.0,26.92 L333.5,26.65 L334.0,26.67 L335.0,27.27 L336.5,28.64 L339.5,31.87 L341.5,33.78 L343.5,35.32 L345.5,36.51 L348.0,37.60 L351.5,38.73 L354.5,39.30 L359.0,39.81 L363.5,40.03 L371.0,40.12 L505.0,40.43 L505.0,41.70Z" fill="url(#bg0)" stroke="#c16868" stroke-width="0.4" stroke-opacity="0.5" stroke-linejoin="round"/><path d="M315.0,55.87 L315.0,54.85 L317.0,54.85 L317.5,54.59 L320.0,52.71 L321.0,51.69 L322.0,50.39 L323.5,47.83 L325.0,44.55 L329.0,33.83 L330.0,31.45 L331.0,29.58 L331.5,28.91 L332.0,28.44 L332.5,28.22 L333.0,28.33 L333.5,28.74 L334.0,29.39 L335.0,31.30 L336.0,33.79 L339.5,43.74 L341.0,47.33 L342.0,49.28 L343.0,50.86 L344.5,52.61 L346.5,54.18 L347.5,54.81 L505.0,54.85 L505.0,55.87Z" fill="url(#bg1)" stroke="#c4784a" stroke-width="0.4" stroke-opacity="0.5" stroke-linejoin="round"/><path d="M315.0,70.04 L315.0,69.02 L315.5,69.00 L316.5,68.68 L320.0,67.26 L322.0,66.29 L323.5,65.35 L325.0,64.24 L327.0,62.49 L332.0,57.28 L333.5,55.85 L335.0,54.78 L336.0,54.44 L336.5,54.58 L337.0,54.86 L338.0,55.69 L342.0,60.23 L344.0,62.18 L345.5,63.35 L347.5,64.59 L350.5,66.05 L353.0,66.92 L356.0,67.52 L361.0,68.05 L367.5,68.38 L376.5,68.48 L505.0,68.77 L505.0,70.04Z" fill="url(#bg2)" stroke="#be7f2c" stroke-width="0.4" stroke-opacity="0.5" stroke-linejoin="round"/><path d="M315.0,84.21 L315.0,83.19 L319.5,83.16 L321.5,82.40 L324.0,81.19 L328.5,78.29 L332.0,75.50 L333.0,74.84 L334.0,74.38 L335.0,74.21 L336.0,74.30 L337.0,74.52 L340.0,75.61 L341.5,76.36 L344.5,78.33 L345.5,78.89 L349.5,80.51 L350.5,80.77 L351.5,80.90 L353.5,80.84 L361.0,80.15 L364.0,80.01 L366.0,80.24 L370.0,81.11 L375.0,81.74 L387.5,82.36 L396.0,82.60 L402.5,82.60 L416.0,82.17 L425.0,82.78 L435.0,82.32 L445.0,82.78 L505.0,82.94 L505.0,84.21Z" fill="url(#bg3)" stroke="#b58932" stroke-width="0.4" stroke-opacity="0.5" stroke-linejoin="round"/><path d="M315.0,98.38 L315.0,97.36 L319.5,97.35 L321.0,96.80 L323.0,95.85 L324.5,94.92 L328.5,91.91 L332.5,88.30 L333.5,87.66 L334.0,87.44 L335.0,87.28 L337.0,87.51 L340.5,88.44 L342.0,89.13 L348.0,92.32 L349.5,92.99 L350.5,93.31 L354.0,94.12 L357.0,94.64 L360.0,94.98 L365.0,95.32 L375.5,95.76 L389.0,96.13 L396.5,96.67 L399.5,96.79 L434.5,96.97 L505.0,97.11 L505.0,98.38Z" fill="url(#bg4)" stroke="#a58d30" stroke-width="0.4" stroke-opacity="0.5" stroke-linejoin="round"/><path d="M315.0,112.55 L315.0,111.53 L319.5,111.51 L322.0,109.87 L323.5,108.68 L325.0,107.12 L329.0,101.89 L330.5,100.14 L332.0,98.92 L333.0,98.52 L333.5,98.45 L334.0,98.47 L335.0,98.72 L336.5,99.56 L338.0,100.87 L342.5,105.36 L344.0,106.57 L345.5,107.54 L347.5,108.47 L350.0,109.28 L352.0,109.72 L354.0,109.96 L360.0,110.14 L394.5,110.18 L427.0,110.35 L505.0,111.28 L505.0,112.55Z" fill="url(#bg5)" stroke="#938f2f" stroke-width="0.4" stroke-opacity="0.5" stroke-linejoin="round"/><path d="M315.0,126.72 L315.0,125.70 L319.5,125.70 L322.0,124.68 L323.0,124.16 L324.0,123.49 L327.5,120.73 L331.0,117.50 L332.0,116.91 L333.0,116.72 L334.5,117.00 L336.0,117.61 L338.5,118.90 L341.5,121.06 L344.0,122.18 L345.5,122.63 L346.5,122.72 L347.5,122.66 L353.5,121.82 L355.5,121.73 L357.5,121.99 L361.5,122.85 L365.0,123.25 L371.0,123.78 L387.0,124.91 L391.0,124.96 L396.5,124.46 L400.5,124.32 L405.0,124.50 L411.0,125.10 L414.5,125.29 L430.5,125.29 L432.5,125.17 L438.0,124.60 L440.0,124.52 L442.0,124.60 L447.5,125.17 L449.5,125.29 L452.0,125.23 L457.5,124.77 L460.0,124.68 L470.0,125.30 L486.0,124.68 L488.5,124.78 L494.5,125.28 L505.0,125.45 L505.0,126.72Z" fill="url(#bg6)" stroke="#819833" stroke-width="0.4" stroke-opacity="0.5" stroke-linejoin="round"/><path d="M315.0,140.89 L315.0,139.87 L319.5,139.87 L321.0,139.33 L323.0,138.30 L324.5,137.13 L328.5,133.34 L332.0,129.57 L333.0,128.81 L333.5,128.55 L334.0,128.41 L334.5,128.40 L335.5,128.61 L336.5,129.06 L343.5,133.55 L345.0,134.29 L346.5,134.74 L350.0,135.59 L353.5,136.92 L354.5,137.20 L358.0,137.64 L361.5,137.94 L364.5,138.07 L367.5,138.06 L377.0,137.37 L380.5,137.31 L383.0,137.52 L388.5,138.33 L392.0,138.67 L396.0,139.21 L400.0,139.47 L505.0,139.62 L505.0,140.89Z" fill="url(#bg7)" stroke="#689c3c" stroke-width="0.4" stroke-opacity="0.5" stroke-linejoin="round"/><path d="M315.0,155.06 L315.0,154.04 L318.0,154.04 L319.0,153.60 L322.0,151.86 L323.5,150.78 L325.0,149.49 L329.0,145.67 L330.5,144.47 L331.5,143.87 L332.5,143.46 L334.0,143.26 L335.5,143.52 L337.0,144.14 L342.5,147.55 L346.5,149.85 L348.0,150.59 L349.5,151.16 L351.0,151.57 L353.0,151.92 L355.0,152.11 L367.0,152.37 L379.0,152.87 L391.5,153.58 L398.5,153.78 L505.0,153.79 L505.0,155.06Z" fill="url(#bg8)" stroke="#499547" stroke-width="0.4" stroke-opacity="0.5" stroke-linejoin="round"/><path d="M315.0,169.23 L315.0,168.21 L316.5,168.21 L317.0,168.04 L320.0,165.87 L321.5,164.26 L322.5,162.87 L324.0,160.27 L329.0,149.44 L330.0,147.79 L330.5,147.18 L331.0,146.75 L331.5,146.54 L332.0,146.60 L333.0,147.14 L333.5,147.58 L334.5,148.72 L336.0,150.91 L339.5,156.84 L341.0,159.12 L342.5,161.07 L344.5,163.13 L345.5,163.95 L347.0,164.97 L348.5,165.80 L349.5,166.23 L351.0,166.72 L353.0,167.20 L355.5,167.63 L359.5,167.89 L366.0,167.96 L505.0,167.96 L505.0,169.23Z" fill="url(#bg9)" stroke="#3c9053" stroke-width="0.4" stroke-opacity="0.5" stroke-linejoin="round"/><path d="M315.0,183.40 L315.0,182.38 L320.0,182.38 L320.5,182.29 L321.0,182.02 L323.5,180.47 L325.0,179.36 L326.5,177.99 L330.0,174.37 L331.5,173.05 L333.0,172.15 L334.0,171.85 L334.5,171.80 L336.0,172.03 L337.5,172.76 L343.0,176.69 L346.0,178.60 L347.5,179.42 L349.0,180.02 L350.5,180.43 L352.0,180.68 L354.0,180.87 L375.5,181.35 L398.5,181.58 L505.0,182.13 L505.0,183.40Z" fill="url(#bg10)" stroke="#359168" stroke-width="0.4" stroke-opacity="0.5" stroke-linejoin="round"/><path d="M315.0,197.57 L315.0,196.55 L316.5,196.55 L317.5,196.15 L320.5,194.51 L322.5,193.04 L324.0,191.58 L325.5,189.81 L327.0,187.78 L330.5,182.64 L332.0,180.70 L333.5,179.28 L334.5,178.76 L335.0,178.67 L335.5,178.81 L336.0,179.15 L337.0,180.29 L338.0,181.87 L341.0,187.56 L342.0,189.26 L343.0,190.70 L344.5,192.38 L346.0,193.51 L347.5,194.22 L350.0,194.91 L352.0,195.24 L355.0,195.44 L358.5,195.51 L412.5,195.63 L505.0,196.30 L505.0,197.57Z" fill="url(#bg11)" stroke="#34947f" stroke-width="0.4" stroke-opacity="0.5" stroke-linejoin="round"/><path d="M315.0,211.74 L315.0,210.72 L316.5,210.72 L317.0,210.60 L320.0,208.85 L322.0,207.28 L323.0,206.25 L324.5,204.43 L328.5,198.51 L330.0,196.46 L331.5,194.97 L332.5,194.48 L333.0,194.45 L333.5,194.55 L334.5,194.99 L336.0,196.11 L337.5,197.61 L342.0,202.75 L343.5,204.15 L345.5,205.61 L347.5,206.67 L350.5,207.72 L353.5,208.54 L357.0,209.04 L360.5,209.24 L365.5,209.32 L402.0,209.38 L442.0,209.59 L505.0,210.47 L505.0,211.74Z" fill="url(#bg12)" stroke="#33978e" stroke-width="0.4" stroke-opacity="0.5" stroke-linejoin="round"/><path d="M315.0,225.91 L315.0,224.89 L319.5,224.89 L322.0,223.87 L323.5,223.02 L324.5,222.26 L332.0,215.93 L333.0,215.33 L333.5,215.14 L334.5,215.01 L335.5,215.14 L337.0,215.60 L341.0,217.20 L345.5,219.18 L351.5,221.22 L353.5,221.74 L355.0,222.01 L358.5,222.26 L369.5,222.69 L395.5,223.20 L505.0,224.64 L505.0,225.91Z" fill="url(#bg13)" stroke="#3099a2" stroke-width="0.4" stroke-opacity="0.5" stroke-linejoin="round"/><path d="M315.0,240.08 L315.0,239.06 L319.0,239.06 L319.5,239.00 L320.0,238.75 L323.0,236.90 L324.5,235.73 L326.0,234.30 L329.5,230.57 L331.0,229.19 L332.0,228.49 L333.0,228.01 L334.0,227.79 L334.5,227.78 L336.0,228.10 L337.5,228.88 L339.0,230.03 L341.0,231.83 L342.5,233.04 L344.0,234.04 L345.5,234.80 L347.5,235.52 L350.5,236.32 L352.5,236.68 L354.5,236.87 L359.5,237.06 L404.0,237.53 L447.5,238.20 L505.0,238.81 L505.0,240.08Z" fill="url(#bg14)" stroke="#3594b4" stroke-width="0.4" stroke-opacity="0.5" stroke-linejoin="round"/><path d="M315.0,254.25 L315.0,253.23 L319.5,253.23 L320.0,253.12 L320.5,252.86 L323.5,251.02 L325.0,249.85 L326.5,248.45 L330.0,244.85 L331.5,243.56 L333.0,242.69 L334.0,242.40 L334.5,242.35 L336.0,242.52 L337.5,243.07 L339.0,243.94 L343.0,246.73 L344.5,247.57 L346.5,248.45 L348.5,249.09 L353.5,250.36 L356.0,250.75 L358.5,250.96 L364.0,251.16 L379.0,251.44 L436.0,252.05 L505.0,252.98 L505.0,254.25Z" fill="url(#bg15)" stroke="#3c8bb7" stroke-width="0.4" stroke-opacity="0.5" stroke-linejoin="round"/><path d="M315.0,268.42 L315.0,267.40 L319.0,267.40 L319.5,267.33 L321.0,265.87 L322.0,264.74 L323.0,263.19 L324.5,260.08 L327.5,252.15 L329.0,248.68 L330.0,247.04 L330.5,246.48 L331.0,246.09 L331.5,245.88 L332.0,245.82 L333.0,246.01 L334.0,246.69 L334.5,247.22 L335.5,248.64 L337.0,251.54 L340.5,259.46 L342.0,262.20 L343.0,263.61 L344.0,264.68 L345.5,265.73 L347.5,266.49 L350.0,266.93 L352.5,267.11 L356.5,267.15 L505.0,267.15 L505.0,268.42Z" fill="url(#bg16)" stroke="#4880b4" stroke-width="0.4" stroke-opacity="0.5" stroke-linejoin="round"/><path d="M315.0,282.59 L315.0,281.57 L319.5,281.57 L320.0,281.41 L320.5,281.05 L322.5,279.45 L324.0,277.88 L325.5,275.86 L329.0,270.46 L330.5,268.59 L331.5,267.71 L332.0,267.41 L332.5,267.18 L333.5,266.99 L334.5,267.09 L335.0,267.27 L335.5,267.56 L336.5,268.44 L338.0,270.43 L341.5,276.23 L343.0,278.16 L344.0,279.12 L345.5,280.06 L347.0,280.64 L348.5,280.97 L350.5,281.20 L356.5,281.32 L505.0,281.32 L505.0,282.59Z" fill="url(#bg17)" stroke="#6878a7" stroke-width="0.4" stroke-opacity="0.5" stroke-linejoin="round"/><path d="M315.0,296.76 L315.0,295.74 L319.5,295.74 L320.0,295.54 L323.0,293.75 L324.5,292.66 L326.0,291.34 L329.5,287.86 L331.0,286.58 L332.0,285.92 L333.0,285.48 L333.5,285.34 L334.5,285.26 L335.5,285.37 L337.0,285.80 L338.5,286.51 L341.5,288.39 L343.5,289.39 L345.5,290.15 L349.0,291.29 L351.5,292.25 L353.0,292.69 L355.0,293.11 L359.0,293.53 L364.0,293.69 L387.0,293.99 L393.5,294.55 L397.5,295.06 L399.5,295.17 L404.5,295.08 L414.5,294.55 L420.5,294.46 L424.5,294.55 L432.0,295.04 L436.0,295.18 L505.0,295.49 L505.0,296.76Z" fill="url(#bg18)" stroke="#7d6f9e" stroke-width="0.4" stroke-opacity="0.5" stroke-linejoin="round"/><path d="M315.0,310.93 L315.0,309.91 L319.0,309.91 L319.5,309.79 L322.5,307.82 L324.0,306.52 L325.5,304.86 L329.5,299.48 L331.0,297.69 L332.0,296.76 L333.0,296.14 L333.5,295.95 L334.5,295.83 L336.0,296.12 L337.5,296.82 L339.0,297.89 L342.0,300.45 L344.0,301.89 L346.0,303.09 L351.5,305.97 L353.5,306.77 L355.5,307.32 L357.5,307.70 L360.0,307.98 L364.5,308.21 L373.5,308.42 L423.5,309.23 L450.5,309.44 L505.0,309.66 L505.0,310.93Z" fill="url(#bg19)" stroke="#89699b" stroke-width="0.4" stroke-opacity="0.5" stroke-linejoin="round"/><path d="M315.0,325.10 L315.0,324.08 L321.0,324.02 L324.0,322.28 L325.5,321.25 L327.5,319.53 L331.0,316.16 L332.5,314.97 L334.0,314.18 L335.0,313.93 L335.5,313.90 L336.5,313.98 L338.0,314.41 L339.0,314.87 L341.5,316.32 L343.0,317.02 L345.0,317.76 L348.5,318.85 L351.5,320.08 L353.0,320.58 L355.0,321.08 L357.0,321.44 L362.5,321.97 L370.0,322.22 L392.0,322.60 L395.5,322.52 L404.0,322.06 L407.5,322.00 L410.5,322.12 L419.0,322.76 L433.5,323.17 L457.5,323.47 L505.0,323.83 L505.0,325.10Z" fill="url(#bg20)" stroke="#926597" stroke-width="0.4" stroke-opacity="0.5" stroke-linejoin="round"/><path d="M315.0,339.27 L315.0,338.25 L316.5,338.25 L317.0,338.19 L317.5,337.94 L320.5,336.11 L321.5,335.31 L322.5,334.32 L324.0,332.47 L325.5,330.17 L330.0,321.92 L331.0,320.49 L331.5,319.98 L332.0,319.69 L332.5,319.77 L333.0,320.04 L334.5,321.41 L336.0,323.29 L339.5,328.20 L341.0,330.14 L342.5,331.76 L344.5,333.45 L345.5,334.10 L347.0,334.91 L350.5,336.27 L353.0,336.90 L355.5,337.37 L357.5,337.64 L362.0,337.90 L370.0,337.99 L505.0,338.00 L505.0,339.27Z" fill="url(#bg21)" stroke="#a15f91" stroke-width="0.4" stroke-opacity="0.5" stroke-linejoin="round"/><path d="M315.0,353.44 L315.0,352.42 L318.0,352.42 L318.5,352.24 L321.0,350.36 L322.0,349.37 L323.0,348.13 L324.5,345.75 L326.0,342.85 L328.5,337.65 L329.5,335.86 L330.5,334.53 L331.0,334.10 L331.5,333.87 L332.0,333.87 L333.0,334.32 L333.5,334.71 L334.5,335.73 L336.0,337.74 L339.5,343.25 L341.0,345.41 L342.5,347.19 L344.0,348.55 L345.5,349.54 L347.5,350.42 L351.5,351.48 L354.0,351.89 L357.5,352.10 L363.5,352.17 L505.0,352.17 L505.0,353.44Z" fill="url(#bg22)" stroke="#b45d8a" stroke-width="0.4" stroke-opacity="0.5" stroke-linejoin="round"/><path d="M315.0,367.61 L315.0,366.59 L317.5,366.59 L318.5,366.00 L320.0,364.90 L321.5,363.58 L322.5,362.42 L324.0,360.25 L325.5,357.63 L328.0,352.86 L329.5,350.35 L330.5,349.08 L331.0,348.61 L331.5,348.27 L332.0,348.06 L332.5,348.01 L333.0,348.10 L334.0,348.62 L334.5,349.04 L335.5,350.13 L337.0,352.29 L340.0,357.34 L341.5,359.68 L343.0,361.64 L344.0,362.70 L345.5,363.94 L347.0,364.81 L350.0,366.02 L352.0,366.54 L505.0,366.59 L505.0,367.61Z" fill="url(#bg23)" stroke="#c25f80" stroke-width="0.4" stroke-opacity="0.5" stroke-linejoin="round"/><path d="M315.0,381.78 L315.0,380.76 L318.0,380.76 L318.5,380.57 L320.5,378.92 L321.5,377.89 L322.5,376.58 L324.0,374.07 L327.5,366.85 L329.0,364.22 L330.0,362.99 L330.5,362.58 L331.0,362.31 L331.5,362.19 L332.5,362.28 L333.5,362.69 L334.5,363.43 L335.5,364.46 L337.0,366.44 L340.5,371.94 L342.0,374.07 L343.5,375.83 L345.0,377.17 L346.5,378.15 L348.5,379.01 L351.5,379.87 L354.0,380.29 L357.0,380.46 L362.5,380.51 L505.0,380.51 L505.0,381.78Z" fill="url(#bg24)" stroke="#c66778" stroke-width="0.4" stroke-opacity="0.5" stroke-linejoin="round"/></g>
<path d="M305.6,27.2 V388.9 H506.5" fill="none" stroke="#1a1a1a" stroke-width="1.1"/>
<line x1="302.6" y1="41.10" x2="305.6" y2="41.10" stroke="#1a1a1a" stroke-width="0.9"/>
<line x1="302.6" y1="55.27" x2="305.6" y2="55.27" stroke="#1a1a1a" stroke-width="0.9"/>
<line x1="302.6" y1="69.44" x2="305.6" y2="69.44" stroke="#1a1a1a" stroke-width="0.9"/>
<line x1="302.6" y1="83.61" x2="305.6" y2="83.61" stroke="#1a1a1a" stroke-width="0.9"/>
<line x1="302.6" y1="97.78" x2="305.6" y2="97.78" stroke="#1a1a1a" stroke-width="0.9"/>
<line x1="302.6" y1="111.95" x2="305.6" y2="111.95" stroke="#1a1a1a" stroke-width="0.9"/>
<line x1="302.6" y1="126.12" x2="305.6" y2="126.12" stroke="#1a1a1a" stroke-width="0.9"/>
<line x1="302.6" y1="140.29" x2="305.6" y2="140.29" stroke="#1a1a1a" stroke-width="0.9"/>
<line x1="302.6" y1="154.46" x2="305.6" y2="154.46" stroke="#1a1a1a" stroke-width="0.9"/>
<line x1="302.6" y1="168.63" x2="305.6" y2="168.63" stroke="#1a1a1a" stroke-width="0.9"/>
<line x1="302.6" y1="182.80" x2="305.6" y2="182.80" stroke="#1a1a1a" stroke-width="0.9"/>
<line x1="302.6" y1="196.97" x2="305.6" y2="196.97" stroke="#1a1a1a" stroke-width="0.9"/>
<line x1="302.6" y1="211.14" x2="305.6" y2="211.14" stroke="#1a1a1a" stroke-width="0.9"/>
<line x1="302.6" y1="225.31" x2="305.6" y2="225.31" stroke="#1a1a1a" stroke-width="0.9"/>
<line x1="302.6" y1="239.48" x2="305.6" y2="239.48" stroke="#1a1a1a" stroke-width="0.9"/>
<line x1="302.6" y1="253.65" x2="305.6" y2="253.65" stroke="#1a1a1a" stroke-width="0.9"/>
<line x1="302.6" y1="267.82" x2="305.6" y2="267.82" stroke="#1a1a1a" stroke-width="0.9"/>
<line x1="302.6" y1="281.99" x2="305.6" y2="281.99" stroke="#1a1a1a" stroke-width="0.9"/>
<line x1="302.6" y1="296.16" x2="305.6" y2="296.16" stroke="#1a1a1a" stroke-width="0.9"/>
<line x1="302.6" y1="310.33" x2="305.6" y2="310.33" stroke="#1a1a1a" stroke-width="0.9"/>
<line x1="302.6" y1="324.50" x2="305.6" y2="324.50" stroke="#1a1a1a" stroke-width="0.9"/>
<line x1="302.6" y1="338.67" x2="305.6" y2="338.67" stroke="#1a1a1a" stroke-width="0.9"/>
<line x1="302.6" y1="352.84" x2="305.6" y2="352.84" stroke="#1a1a1a" stroke-width="0.9"/>
<line x1="302.6" y1="367.01" x2="305.6" y2="367.01" stroke="#1a1a1a" stroke-width="0.9"/>
<line x1="302.6" y1="381.18" x2="305.6" y2="381.18" stroke="#1a1a1a" stroke-width="0.9"/>
<line x1="331.7" y1="388.9" x2="331.7" y2="391.9" stroke="#1a1a1a" stroke-width="0.9"/>
<text transform="translate(331.70,403.40) scale(0.9,1)" font-family="'Liberation Sans', sans-serif" font-size="9.0" fill="#1a1a1a" text-anchor="middle" >0.01</text>
<line x1="383.6" y1="388.9" x2="383.6" y2="391.9" stroke="#1a1a1a" stroke-width="0.9"/>
<text transform="translate(383.60,403.40) scale(0.9,1)" font-family="'Liberation Sans', sans-serif" font-size="9.0" fill="#1a1a1a" text-anchor="middle" >0.1</text>
<line x1="435.5" y1="388.9" x2="435.5" y2="391.9" stroke="#1a1a1a" stroke-width="0.9"/>
<text transform="translate(435.50,403.40) scale(0.9,1)" font-family="'Liberation Sans', sans-serif" font-size="9.0" fill="#1a1a1a" text-anchor="middle" >1</text>
<line x1="487.4" y1="388.9" x2="487.4" y2="391.9" stroke="#1a1a1a" stroke-width="0.9"/>
<text transform="translate(487.40,403.40) scale(0.9,1)" font-family="'Liberation Sans', sans-serif" font-size="9.0" fill="#1a1a1a" text-anchor="middle" >10</text>
<text x="383.2" y="418.4" font-family="'Liberation Sans', sans-serif" font-size="9.7" fill="#1a1a1a" textLength="56" lengthAdjust="spacingAndGlyphs" stroke="#1a1a1a" stroke-width="0.22">Transcripts (log2)</text>
<rect x="47.50" y="474.28" width="4.1" height="54.02" fill="#b70d2d"/>
<rect x="51.60" y="528.80" width="3.9" height="63.86" fill="#ebb9b0"/>
<rect x="55.79" y="519.24" width="4.1" height="9.06" fill="#b70d2d"/>
<rect x="59.89" y="528.80" width="3.9" height="26.41" fill="#ebb9b0"/>
<rect x="64.08" y="471.66" width="4.1" height="56.64" fill="#b70d2d"/>
<rect x="68.18" y="528.80" width="3.9" height="67.26" fill="#ebb9b0"/>
<rect x="72.37" y="466.99" width="4.1" height="61.31" fill="#b70d2d"/>
<rect x="76.47" y="528.80" width="3.9" height="70.45" fill="#ebb9b0"/>
<rect x="80.66" y="464.01" width="4.1" height="64.29" fill="#b70d2d"/>
<rect x="84.76" y="528.80" width="3.9" height="68.32" fill="#ebb9b0"/>
<rect x="88.95" y="476.76" width="4.1" height="51.54" fill="#b70d2d"/>
<rect x="93.05" y="528.80" width="3.9" height="64.43" fill="#ebb9b0"/>
<rect x="97.24" y="466.49" width="4.1" height="61.81" fill="#b70d2d"/>
<rect x="101.34" y="528.80" width="3.9" height="68.32" fill="#ebb9b0"/>
<rect x="105.53" y="467.98" width="4.1" height="60.32" fill="#b70d2d"/>
<rect x="109.63" y="528.80" width="3.9" height="68.32" fill="#ebb9b0"/>
<rect x="113.82" y="469.54" width="4.1" height="58.76" fill="#b70d2d"/>
<rect x="117.92" y="528.80" width="3.9" height="65.84" fill="#ebb9b0"/>
<rect x="122.11" y="504.94" width="4.1" height="23.36" fill="#b70d2d"/>
<rect x="126.21" y="528.80" width="3.9" height="48.71" fill="#ebb9b0"/>
<rect x="130.40" y="465.00" width="4.1" height="63.30" fill="#b70d2d"/>
<rect x="134.50" y="528.80" width="3.9" height="68.68" fill="#ebb9b0"/>
<rect x="138.69" y="475.48" width="4.1" height="52.82" fill="#b70d2d"/>
<rect x="142.79" y="528.80" width="3.9" height="65.84" fill="#ebb9b0"/>
<rect x="146.98" y="468.26" width="4.1" height="60.04" fill="#b70d2d"/>
<rect x="151.08" y="528.80" width="3.9" height="65.84" fill="#ebb9b0"/>
<rect x="155.27" y="468.26" width="4.1" height="60.04" fill="#b70d2d"/>
<rect x="159.37" y="528.80" width="3.9" height="64.43" fill="#ebb9b0"/>
<rect x="163.56" y="468.26" width="4.1" height="60.04" fill="#b70d2d"/>
<rect x="167.66" y="528.80" width="3.9" height="67.26" fill="#ebb9b0"/>
<rect x="171.85" y="466.49" width="4.1" height="61.81" fill="#b70d2d"/>
<rect x="175.95" y="528.80" width="3.9" height="66.55" fill="#ebb9b0"/>
<rect x="180.14" y="503.52" width="4.1" height="24.78" fill="#b70d2d"/>
<rect x="184.24" y="528.80" width="3.9" height="48.85" fill="#ebb9b0"/>
<rect x="188.43" y="474.00" width="4.1" height="54.30" fill="#b70d2d"/>
<rect x="192.53" y="528.80" width="3.9" height="65.49" fill="#ebb9b0"/>
<rect x="196.72" y="466.49" width="4.1" height="61.81" fill="#b70d2d"/>
<rect x="200.82" y="528.80" width="3.9" height="68.32" fill="#ebb9b0"/>
<rect x="205.01" y="476.97" width="4.1" height="51.33" fill="#b70d2d"/>
<rect x="209.11" y="528.80" width="3.9" height="61.95" fill="#ebb9b0"/>
<rect x="213.30" y="466.99" width="4.1" height="61.31" fill="#b70d2d"/>
<rect x="217.40" y="528.80" width="3.9" height="67.97" fill="#ebb9b0"/>
<rect x="221.59" y="487.52" width="4.1" height="40.78" fill="#b70d2d"/>
<rect x="225.69" y="528.80" width="3.9" height="56.64" fill="#ebb9b0"/>
<rect x="229.88" y="518.03" width="4.1" height="10.27" fill="#b70d2d"/>
<rect x="233.98" y="528.80" width="3.9" height="49.56" fill="#ebb9b0"/>
<rect x="238.17" y="519.52" width="4.1" height="8.78" fill="#b70d2d"/>
<rect x="242.27" y="528.80" width="3.9" height="34.34" fill="#ebb9b0"/>
<line x1="44.6" y1="528.3" x2="250" y2="528.3" stroke="#2a1a1a" stroke-width="1.1"/>
<path d="M44.6,454.5 V599.2 H250.5" fill="none" stroke="#1a1a1a" stroke-width="1.1"/>
<line x1="41" y1="457.50" x2="44.6" y2="457.50" stroke="#1a1a1a" stroke-width="0.9"/>
<text transform="translate(37.80,460.50) scale(0.92,1)" font-family="'Liberation Sans', sans-serif" font-size="9.0" fill="#1a1a1a" text-anchor="end" >100</text>
<line x1="41" y1="475.20" x2="44.6" y2="475.20" stroke="#1a1a1a" stroke-width="0.9"/>
<text transform="translate(37.80,478.20) scale(0.92,1)" font-family="'Liberation Sans', sans-serif" font-size="9.0" fill="#1a1a1a" text-anchor="end" >75</text>
<line x1="41" y1="492.90" x2="44.6" y2="492.90" stroke="#1a1a1a" stroke-width="0.9"/>
<text transform="translate(37.80,495.90) scale(0.92,1)" font-family="'Liberation Sans', sans-serif" font-size="9.0" fill="#1a1a1a" text-anchor="end" >50</text>
<line x1="41" y1="510.60" x2="44.6" y2="510.60" stroke="#1a1a1a" stroke-width="0.9"/>
<text transform="translate(37.80,513.60) scale(0.92,1)" font-family="'Liberation Sans', sans-serif" font-size="9.0" fill="#1a1a1a" text-anchor="end" >25</text>
<line x1="41" y1="528.30" x2="44.6" y2="528.30" stroke="#1a1a1a" stroke-width="0.9"/>
<text transform="translate(37.80,531.30) scale(0.92,1)" font-family="'Liberation Sans', sans-serif" font-size="9.0" fill="#1a1a1a" text-anchor="end" >0</text>
<line x1="41" y1="546.00" x2="44.6" y2="546.00" stroke="#1a1a1a" stroke-width="0.9"/>
<text transform="translate(37.80,549.00) scale(0.92,1)" font-family="'Liberation Sans', sans-serif" font-size="9.0" fill="#1a1a1a" text-anchor="end" >25</text>
<line x1="41" y1="563.70" x2="44.6" y2="563.70" stroke="#1a1a1a" stroke-width="0.9"/>
<text transform="translate(37.80,566.70) scale(0.92,1)" font-family="'Liberation Sans', sans-serif" font-size="9.0" fill="#1a1a1a" text-anchor="end" >50</text>
<line x1="41" y1="581.40" x2="44.6" y2="581.40" stroke="#1a1a1a" stroke-width="0.9"/>
<text transform="translate(37.80,584.40) scale(0.92,1)" font-family="'Liberation Sans', sans-serif" font-size="9.0" fill="#1a1a1a" text-anchor="end" >75</text>
<line x1="41" y1="599.10" x2="44.6" y2="599.10" stroke="#1a1a1a" stroke-width="0.9"/>
<text transform="translate(37.80,602.10) scale(0.92,1)" font-family="'Liberation Sans', sans-serif" font-size="9.0" fill="#1a1a1a" text-anchor="end" >100</text>
<line x1="55.2" y1="599.2" x2="55.2" y2="602.2" stroke="#1a1a1a" stroke-width="0.9"/>
<text transform="translate(55.20,613.90) scale(0.92,1)" font-family="'Liberation Sans', sans-serif" font-size="9.0" fill="#1a1a1a" text-anchor="middle" >C01</text>
<line x1="71.2" y1="599.2" x2="71.2" y2="602.2" stroke="#1a1a1a" stroke-width="0.9"/>
<text transform="translate(71.20,613.90) scale(0.92,1)" font-family="'Liberation Sans', sans-serif" font-size="9.0" fill="#1a1a1a" text-anchor="middle" >03</text>
<line x1="87.3" y1="599.2" x2="87.3" y2="602.2" stroke="#1a1a1a" stroke-width="0.9"/>
<text transform="translate(87.30,613.90) scale(0.92,1)" font-family="'Liberation Sans', sans-serif" font-size="9.0" fill="#1a1a1a" text-anchor="middle" >05</text>
<line x1="103.8" y1="599.2" x2="103.8" y2="602.2" stroke="#1a1a1a" stroke-width="0.9"/>
<text transform="translate(103.80,613.90) scale(0.92,1)" font-family="'Liberation Sans', sans-serif" font-size="9.0" fill="#1a1a1a" text-anchor="middle" >07</text>
<line x1="120.6" y1="599.2" x2="120.6" y2="602.2" stroke="#1a1a1a" stroke-width="0.9"/>
<text transform="translate(120.60,613.90) scale(0.92,1)" font-family="'Liberation Sans', sans-serif" font-size="9.0" fill="#1a1a1a" text-anchor="middle" >09</text>
<line x1="135.9" y1="599.2" x2="135.9" y2="602.2" stroke="#1a1a1a" stroke-width="0.9"/>
<text transform="translate(135.90,613.90) scale(0.92,1)" font-family="'Liberation Sans', sans-serif" font-size="9.0" fill="#1a1a1a" text-anchor="middle" >11</text>
<line x1="152" y1="599.2" x2="152" y2="602.2" stroke="#1a1a1a" stroke-width="0.9"/>
<text transform="translate(152.00,613.90) scale(0.92,1)" font-family="'Liberation Sans', sans-serif" font-size="9.0" fill="#1a1a1a" text-anchor="middle" >13</text>
<line x1="167.4" y1="599.2" x2="167.4" y2="602.2" stroke="#1a1a1a" stroke-width="0.9"/>
<text transform="translate(167.40,613.90) scale(0.92,1)" font-family="'Liberation Sans', sans-serif" font-size="9.0" fill="#1a1a1a" text-anchor="middle" >15</text>
<line x1="186.8" y1="599.2" x2="186.8" y2="602.2" stroke="#1a1a1a" stroke-width="0.9"/>
<text transform="translate(186.80,613.90) scale(0.92,1)" font-family="'Liberation Sans', sans-serif" font-size="9.0" fill="#1a1a1a" text-anchor="middle" >17</text>
<line x1="202.5" y1="599.2" x2="202.5" y2="602.2" stroke="#1a1a1a" stroke-width="0.9"/>
<text transform="translate(202.50,613.90) scale(0.92,1)" font-family="'Liberation Sans', sans-serif" font-size="9.0" fill="#1a1a1a" text-anchor="middle" >19</text>
<line x1="218.5" y1="599.2" x2="218.5" y2="602.2" stroke="#1a1a1a" stroke-width="0.9"/>
<text transform="translate(218.50,613.90) scale(0.92,1)" font-family="'Liberation Sans', sans-serif" font-size="9.0" fill="#1a1a1a" text-anchor="middle" >21</text>
<line x1="237.5" y1="599.2" x2="237.5" y2="602.2" stroke="#1a1a1a" stroke-width="0.9"/>
<text transform="translate(237.50,613.90) scale(0.92,1)" font-family="'Liberation Sans', sans-serif" font-size="9.0" fill="#1a1a1a" text-anchor="middle" >23</text>
<text transform="translate(16.4,493.5) rotate(-90)" x="0" y="0" font-family="'Liberation Sans', sans-serif" font-size="9.8" fill="#1a1a1a" text-anchor="middle" textLength="47" lengthAdjust="spacingAndGlyphs" stroke="#1a1a1a" stroke-width="0.22">Human Plt (%)</text>
<text transform="translate(16.4,563.8) rotate(-90)" x="0" y="0" font-family="'Liberation Sans', sans-serif" font-size="9.8" fill="#1a1a1a" text-anchor="middle" textLength="46.2" lengthAdjust="spacingAndGlyphs" stroke="#1a1a1a" stroke-width="0.22">Mouse Plt (%)</text>
<line x1="313" y1="597.5" x2="464.6" y2="502.4" stroke="#a2daa2" stroke-width="1.2"/>
<circle cx="314" cy="594.9" r="1.9" fill="#33923f"/>
<circle cx="315.6" cy="593.7" r="1.9" fill="#33923f"/>
<circle cx="318.2" cy="593.3" r="1.9" fill="#33923f"/>
<circle cx="316.6" cy="596.5" r="1.9" fill="#33923f"/>
<circle cx="323.5" cy="589.1" r="1.9" fill="#33923f"/>
<circle cx="327.8" cy="588.6" r="1.9" fill="#33923f"/>
<circle cx="330.9" cy="583.8" r="1.9" fill="#33923f"/>
<circle cx="332.3" cy="582.2" r="1.9" fill="#33923f"/>
<circle cx="333.4" cy="581.2" r="1.9" fill="#33923f"/>
<circle cx="341.5" cy="575.9" r="1.9" fill="#33923f"/>
<circle cx="346.8" cy="571.4" r="1.9" fill="#33923f"/>
<circle cx="347.9" cy="572.2" r="1.9" fill="#33923f"/>
<circle cx="350" cy="569.5" r="1.9" fill="#33923f"/>
<circle cx="352.1" cy="568.3" r="1.9" fill="#33923f"/>
<circle cx="365.4" cy="557" r="1.9" fill="#33923f"/>
<circle cx="367.3" cy="560" r="1.9" fill="#33923f"/>
<circle cx="374.4" cy="551" r="1.9" fill="#33923f"/>
<circle cx="387.5" cy="544" r="1.9" fill="#33923f"/>
<circle cx="402.9" cy="553.2" r="1.9" fill="#33923f"/>
<circle cx="404.9" cy="533.5" r="1.9" fill="#33923f"/>
<circle cx="423.8" cy="516.9" r="1.9" fill="#33923f"/>
<circle cx="452.8" cy="516.8" r="1.9" fill="#33923f"/>
<circle cx="460.05" cy="499.8" r="1.9" fill="#33923f"/>
<circle cx="465" cy="511.7" r="1.9" fill="#33923f"/>
<path d="M309.6,471.2 V599.2 H497.5" fill="none" stroke="#1a1a1a" stroke-width="1.1"/>
<line x1="306.6" y1="599.00" x2="309.6" y2="599.00" stroke="#1a1a1a" stroke-width="0.9"/>
<text x="303" y="602.00" font-family="'Liberation Sans', sans-serif" font-size="8.3" fill="#1a1a1a" text-anchor="end" letter-spacing="0.3">0</text>
<line x1="306.6" y1="573.95" x2="309.6" y2="573.95" stroke="#1a1a1a" stroke-width="0.9"/>
<text x="303" y="576.95" font-family="'Liberation Sans', sans-serif" font-size="8.3" fill="#1a1a1a" text-anchor="end" letter-spacing="0.3">400</text>
<line x1="306.6" y1="548.90" x2="309.6" y2="548.90" stroke="#1a1a1a" stroke-width="0.9"/>
<text x="303" y="551.90" font-family="'Liberation Sans', sans-serif" font-size="8.3" fill="#1a1a1a" text-anchor="end" letter-spacing="0.3">800</text>
<line x1="306.6" y1="523.85" x2="309.6" y2="523.85" stroke="#1a1a1a" stroke-width="0.9"/>
<text x="303" y="526.85" font-family="'Liberation Sans', sans-serif" font-size="8.3" fill="#1a1a1a" text-anchor="end" letter-spacing="0.3">1200</text>
<line x1="306.6" y1="498.80" x2="309.6" y2="498.80" stroke="#1a1a1a" stroke-width="0.9"/>
<text x="303" y="501.80" font-family="'Liberation Sans', sans-serif" font-size="8.3" fill="#1a1a1a" text-anchor="end" letter-spacing="0.3">1600</text>
<line x1="306.6" y1="473.75" x2="309.6" y2="473.75" stroke="#1a1a1a" stroke-width="0.9"/>
<text x="303" y="476.75" font-family="'Liberation Sans', sans-serif" font-size="8.3" fill="#1a1a1a" text-anchor="end" letter-spacing="0.3">2000</text>
<line x1="309.60" y1="599.2" x2="309.60" y2="602.2" stroke="#1a1a1a" stroke-width="0.9"/>
<text x="310.20" y="613.3" font-family="'Liberation Sans', sans-serif" font-size="8.3" fill="#1a1a1a" text-anchor="middle" letter-spacing="0.3">0</text>
<line x1="347.10" y1="599.2" x2="347.10" y2="602.2" stroke="#1a1a1a" stroke-width="0.9"/>
<text x="347.70" y="613.3" font-family="'Liberation Sans', sans-serif" font-size="8.3" fill="#1a1a1a" text-anchor="middle" letter-spacing="0.3">500</text>
<line x1="384.60" y1="599.2" x2="384.60" y2="602.2" stroke="#1a1a1a" stroke-width="0.9"/>
<text x="385.20" y="613.3" font-family="'Liberation Sans', sans-serif" font-size="8.3" fill="#1a1a1a" text-anchor="middle" letter-spacing="0.3">1000</text>
<line x1="422.10" y1="599.2" x2="422.10" y2="602.2" stroke="#1a1a1a" stroke-width="0.9"/>
<text x="422.70" y="613.3" font-family="'Liberation Sans', sans-serif" font-size="8.3" fill="#1a1a1a" text-anchor="middle" letter-spacing="0.3">1500</text>
<line x1="459.60" y1="599.2" x2="459.60" y2="602.2" stroke="#1a1a1a" stroke-width="0.9"/>
<text x="460.20" y="613.3" font-family="'Liberation Sans', sans-serif" font-size="8.3" fill="#1a1a1a" text-anchor="middle" letter-spacing="0.3">2000</text>
<line x1="497.10" y1="599.2" x2="497.10" y2="602.2" stroke="#1a1a1a" stroke-width="0.9"/>
<text x="497.70" y="613.3" font-family="'Liberation Sans', sans-serif" font-size="8.3" fill="#1a1a1a" text-anchor="middle" letter-spacing="0.3">2500</text>
<text x="368.1" y="627.9" font-family="'Liberation Sans', sans-serif" font-size="9.9" fill="#1a1a1a" textLength="75" lengthAdjust="spacingAndGlyphs" stroke="#1a1a1a" stroke-width="0.22">Transcripts (human Plt)</text>
<text transform="translate(276.5,535.1) rotate(-90)" x="0" y="0" font-family="'Liberation Sans', sans-serif" font-size="9.9" fill="#1a1a1a" text-anchor="middle" textLength="75.6" lengthAdjust="spacingAndGlyphs" stroke="#1a1a1a" stroke-width="0.22">Transcripts (mouse Plt)</text>
<text x="320.1" y="480.2" font-family="'Liberation Sans', sans-serif" font-size="8.8" fill="#1a1a1a">R = 0.983</text>
<text x="320.1" y="490.8" font-family="'Liberation Sans', sans-serif" font-size="8.8" fill="#1a1a1a"><tspan font-style="italic">P</tspan> = 7E-17</text>
<text x="320.1" y="501.3" font-family="'Liberation Sans', sans-serif" font-size="8.8" fill="#1a1a1a">n = 23</text>
<text x="340.4" y="531.5" font-family="'Liberation Sans', sans-serif" font-size="8.5" fill="#1a1a1a" letter-spacing="0.1">21</text>
<text x="340.4" y="541.5" font-family="'Liberation Sans', sans-serif" font-size="8.5" fill="#1a1a1a" letter-spacing="0.1">03</text>
<text x="340.4" y="551.1" font-family="'Liberation Sans', sans-serif" font-size="8.5" fill="#1a1a1a" letter-spacing="0.1">09</text>
<text x="357.0" y="552.0" font-family="'Liberation Sans', sans-serif" font-size="8.5" fill="#1a1a1a" letter-spacing="0.1">14</text>
<text x="367.9" y="545.7" font-family="'Liberation Sans', sans-serif" font-size="8.5" fill="#1a1a1a" letter-spacing="0.1">11</text>
<text x="380.6" y="539.3" font-family="'Liberation Sans', sans-serif" font-size="8.5" fill="#1a1a1a" letter-spacing="0.1">12</text>
<text x="326.2" y="564.1" font-family="'Liberation Sans', sans-serif" font-size="8.5" fill="#1a1a1a" letter-spacing="0.1">01</text>
<text x="349.2" y="562.9" font-family="'Liberation Sans', sans-serif" font-size="8.5" fill="#1a1a1a" letter-spacing="0.1">15</text>
<text x="371" y="571.3" font-family="'Liberation Sans', sans-serif" font-size="8.5" fill="#1a1a1a" letter-spacing="0.1">06</text>
<text x="315" y="574.1" font-family="'Liberation Sans', sans-serif" font-size="8.5" fill="#1a1a1a" letter-spacing="0.1">08</text>
<text x="327.3" y="574.4" font-family="'Liberation Sans', sans-serif" font-size="8.5" fill="#1a1a1a" letter-spacing="0.1">16</text>
<text x="354.0" y="577.9" font-family="'Liberation Sans', sans-serif" font-size="8.5" fill="#1a1a1a" letter-spacing="0.1">19</text>
<text x="317.7" y="585.0" font-family="'Liberation Sans', sans-serif" font-size="8.5" fill="#1a1a1a" letter-spacing="0.1">23</text>
<text x="328.2" y="597.8" font-family="'Liberation Sans', sans-serif" font-size="8.5" fill="#1a1a1a" letter-spacing="0.1">07</text>
<text x="340.8" y="597.8" font-family="'Liberation Sans', sans-serif" font-size="8.5" fill="#1a1a1a" letter-spacing="0.1">04</text>
<text x="353.0" y="597.8" font-family="'Liberation Sans', sans-serif" font-size="8.5" fill="#1a1a1a" letter-spacing="0.1">02</text>
<text x="365.0" y="597.8" font-family="'Liberation Sans', sans-serif" font-size="8.5" fill="#1a1a1a" letter-spacing="0.1">05</text>
<text x="405.2" y="562.2" font-family="'Liberation Sans', sans-serif" font-size="8.5" fill="#1a1a1a" letter-spacing="0.1">17</text>
<text x="398.9" y="526.9" font-family="'Liberation Sans', sans-serif" font-size="8.5" fill="#1a1a1a" letter-spacing="0.1">18</text>
<text x="418.8" y="510.7" font-family="'Liberation Sans', sans-serif" font-size="8.5" fill="#1a1a1a" letter-spacing="0.1">13</text>
<text x="447.4" y="528.7" font-family="'Liberation Sans', sans-serif" font-size="8.5" fill="#1a1a1a" letter-spacing="0.1">22</text>
<text x="453.8" y="492.2" font-family="'Liberation Sans', sans-serif" font-size="8.5" fill="#1a1a1a" letter-spacing="0.1">20</text>
<text x="469.5" y="517.2" font-family="'Liberation Sans', sans-serif" font-size="8.5" fill="#1a1a1a" letter-spacing="0.1">10</text>
<rect x="0.5" y="0.5" width="519" height="637" fill="none" stroke="#505050" stroke-width="1"/>
</svg>
</body></html>
